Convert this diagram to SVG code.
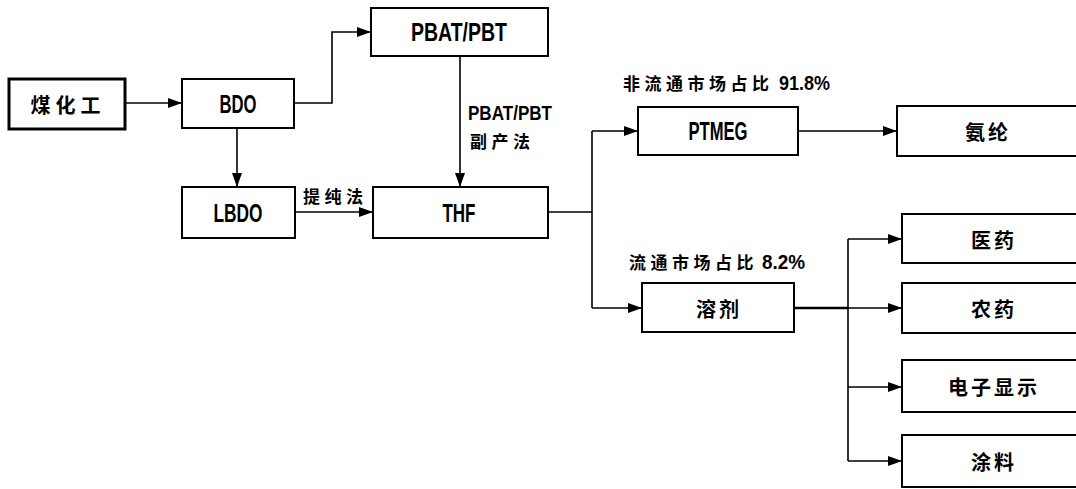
<svg xmlns="http://www.w3.org/2000/svg" width="1076" height="489" viewBox="0 0 1076 489">
<style>
.box{fill:#fff;stroke:#000;stroke-width:2}
.thick{stroke-width:3}
.t{font-family:"Liberation Sans","Noto Sans CJK SC",sans-serif;font-weight:bold;font-size:25px;text-anchor:middle;dominant-baseline:central;fill:#000}
.c{font-family:"Noto Sans CJK SC",sans-serif;font-weight:bold;font-size:20px;text-anchor:middle;dominant-baseline:central;fill:#000;letter-spacing:3px}
.l{font-family:"Noto Sans CJK SC","Liberation Sans",sans-serif;font-weight:bold;font-size:17px;dominant-baseline:central;fill:#000;letter-spacing:4.5px}
.n{font-family:"Liberation Sans",sans-serif;font-weight:bold;font-size:21px;dominant-baseline:central;fill:#000}
.ln{fill:none;stroke:#000;stroke-width:1.6}
</style>
<defs>
<marker id="ar" markerUnits="userSpaceOnUse" markerWidth="14" markerHeight="10" refX="14" refY="5" orient="auto">
<path d="M0,0 L14,5 L0,10 Z" fill="#000"/>
</marker>
</defs>
<g id="connectors">
<path class="ln" d="M125,103 H182" marker-end="url(#ar)"/>
<path class="ln" d="M294,103 H332 V32 H371" marker-end="url(#ar)"/>
<path class="ln" d="M237,128 V187" marker-end="url(#ar)"/>
<path class="ln" d="M460,56 V187" marker-end="url(#ar)"/>
<path class="ln" d="M295,212 H373" marker-end="url(#ar)"/>
<path class="ln" d="M548,212 H592"/>
<path class="ln" d="M592,131 V308"/>
<path class="ln" d="M592,131 H638" marker-end="url(#ar)"/>
<path class="ln" d="M592,308 H642" marker-end="url(#ar)"/>
<path class="ln" d="M798,131 H897" marker-end="url(#ar)"/>
<path class="ln" d="M794,308 H848" style="stroke-width:2.4"/>
<path class="ln" d="M848,239 V461"/>
<path class="ln" d="M848,239 H902" marker-end="url(#ar)"/>
<path class="ln" d="M848,308 H902" marker-end="url(#ar)"/>
<path class="ln" d="M848,387 H902" marker-end="url(#ar)"/>
<path class="ln" d="M848,461 H902" marker-end="url(#ar)"/>
<text class="n" x="468" y="112" textLength="84" lengthAdjust="spacingAndGlyphs">PBAT/PBT</text>
<text class="l" x="470" y="140">副产法</text>
<text class="l" x="303" y="195">提纯法</text>
<text class="l" x="623" y="82">非流通市场占比</text>
<text class="n" x="779" y="82" textLength="51" lengthAdjust="spacingAndGlyphs">91.8%</text>
<text class="l" x="629" y="261">流通市场占比</text>
<text class="n" x="762" y="261" textLength="43" lengthAdjust="spacingAndGlyphs">8.2%</text>
</g>
<g id="n-meihuagong"><rect class="box thick" x="9" y="79" width="116" height="50"/><text class="c" x="68" y="104" style="letter-spacing:5px">煤化工</text></g>
<g id="n-bdo"><rect class="box" x="182" y="79" width="112" height="49"/><text class="t" x="238" y="104" textLength="37" lengthAdjust="spacingAndGlyphs">BDO</text></g>
<g id="n-pbat"><rect class="box" x="371" y="8" width="177" height="48"/><text class="t" x="459" y="32" textLength="96" lengthAdjust="spacingAndGlyphs">PBAT/PBT</text></g>
<g id="n-lbdo"><rect class="box" x="182" y="187" width="113" height="51"/><text class="t" x="238" y="213" textLength="49" lengthAdjust="spacingAndGlyphs">LBDO</text></g>
<g id="n-thf"><rect class="box" x="373" y="187" width="175" height="51"/><text class="t" x="459" y="213" textLength="33" lengthAdjust="spacingAndGlyphs">THF</text></g>
<g id="n-ptmeg"><rect class="box" x="638" y="107" width="160" height="48"/><text class="t" x="718" y="131" textLength="59" lengthAdjust="spacingAndGlyphs">PTMEG</text></g>
<g id="n-anlun"><rect class="box" x="897" y="106" width="190" height="50"/><text class="c" x="988" y="131">氨纶</text></g>
<g id="n-rongji"><rect class="box" x="642" y="283" width="152" height="49"/><text class="c" x="719" y="308">溶剂</text></g>
<g id="n-yiyao"><rect class="box" x="902" y="214" width="185" height="49"/><text class="c" x="994" y="239">医药</text></g>
<g id="n-nongyao"><rect class="box" x="902" y="283" width="185" height="50"/><text class="c" x="994" y="308">农药</text></g>
<g id="n-dianzi"><rect class="box" x="902" y="360" width="185" height="52"/><text class="c" x="994" y="386">电子显示</text></g>
<g id="n-tuliao"><rect class="box" x="902" y="435" width="185" height="52"/><text class="c" x="994" y="461">涂料</text></g>
</svg>
